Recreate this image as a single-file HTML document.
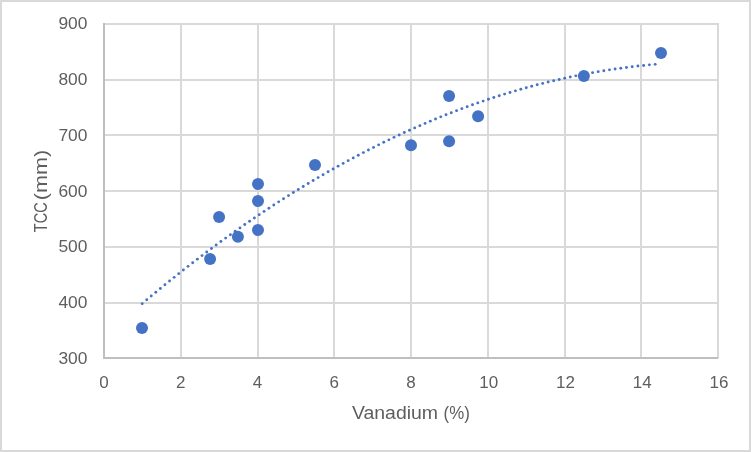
<!DOCTYPE html>
<html><head><meta charset="utf-8"><title>chart</title>
<style>
html,body{margin:0;padding:0;background:#fff;}
body{width:751px;height:452px;overflow:hidden;}
svg{display:block;will-change:transform;}
text{font-family:"Liberation Sans",sans-serif;fill:#5e5e5e;}
</style></head><body>
<svg width="751" height="452" viewBox="0 0 751 452">
<rect x="0" y="0" width="751" height="452" fill="#ffffff"/>
<rect x="1" y="1" width="749" height="450" fill="none" stroke="#d9d9d9" stroke-width="2"/>
<g stroke="#d9d9d9" stroke-width="2" fill="none">
<line x1="104" x2="719" y1="24" y2="24"/>
<line x1="104" x2="719" y1="80" y2="80"/>
<line x1="104" x2="719" y1="135" y2="135"/>
<line x1="104" x2="719" y1="191" y2="191"/>
<line x1="104" x2="719" y1="247" y2="247"/>
<line x1="104" x2="719" y1="303" y2="303"/>
<line x1="181" x2="181" y1="23" y2="358"/>
<line x1="258" x2="258" y1="23" y2="358"/>
<line x1="334" x2="334" y1="23" y2="358"/>
<line x1="411" x2="411" y1="23" y2="358"/>
<line x1="488" x2="488" y1="23" y2="358"/>
<line x1="565" x2="565" y1="23" y2="358"/>
<line x1="641" x2="641" y1="23" y2="358"/>
<line x1="718" x2="718" y1="23" y2="358"/>
</g>
<g stroke="#bfbfbf" stroke-width="2" fill="none"><line x1="104" x2="104" y1="23" y2="359"/><line x1="103" x2="718.3" y1="358" y2="358"/></g>
<g fill="#4472c4">
<circle cx="142.20" cy="303.63" r="1.45"/>
<circle cx="146.72" cy="299.81" r="1.45"/>
<circle cx="151.26" cy="296.02" r="1.45"/>
<circle cx="155.81" cy="292.24" r="1.45"/>
<circle cx="160.37" cy="288.49" r="1.45"/>
<circle cx="164.94" cy="284.75" r="1.45"/>
<circle cx="169.53" cy="281.03" r="1.45"/>
<circle cx="174.14" cy="277.33" r="1.45"/>
<circle cx="178.75" cy="273.66" r="1.45"/>
<circle cx="183.39" cy="270.00" r="1.45"/>
<circle cx="188.03" cy="266.37" r="1.45"/>
<circle cx="192.69" cy="262.75" r="1.45"/>
<circle cx="197.36" cy="259.16" r="1.45"/>
<circle cx="202.04" cy="255.60" r="1.45"/>
<circle cx="206.74" cy="252.05" r="1.45"/>
<circle cx="211.45" cy="248.53" r="1.45"/>
<circle cx="216.17" cy="245.03" r="1.45"/>
<circle cx="220.90" cy="241.56" r="1.45"/>
<circle cx="225.65" cy="238.11" r="1.45"/>
<circle cx="230.41" cy="234.68" r="1.45"/>
<circle cx="235.18" cy="231.28" r="1.45"/>
<circle cx="239.96" cy="227.91" r="1.45"/>
<circle cx="244.76" cy="224.56" r="1.45"/>
<circle cx="249.57" cy="221.24" r="1.45"/>
<circle cx="254.39" cy="217.94" r="1.45"/>
<circle cx="259.22" cy="214.67" r="1.45"/>
<circle cx="264.06" cy="211.42" r="1.45"/>
<circle cx="268.92" cy="208.20" r="1.45"/>
<circle cx="273.78" cy="205.01" r="1.45"/>
<circle cx="278.66" cy="201.85" r="1.45"/>
<circle cx="283.55" cy="198.72" r="1.45"/>
<circle cx="288.46" cy="195.61" r="1.45"/>
<circle cx="293.37" cy="192.53" r="1.45"/>
<circle cx="298.29" cy="189.48" r="1.45"/>
<circle cx="303.23" cy="186.46" r="1.45"/>
<circle cx="308.18" cy="183.47" r="1.45"/>
<circle cx="313.14" cy="180.51" r="1.45"/>
<circle cx="318.11" cy="177.58" r="1.45"/>
<circle cx="323.09" cy="174.68" r="1.45"/>
<circle cx="328.08" cy="171.81" r="1.45"/>
<circle cx="333.09" cy="168.97" r="1.45"/>
<circle cx="338.10" cy="166.16" r="1.45"/>
<circle cx="343.13" cy="163.38" r="1.45"/>
<circle cx="348.17" cy="160.64" r="1.45"/>
<circle cx="353.22" cy="157.92" r="1.45"/>
<circle cx="358.28" cy="155.24" r="1.45"/>
<circle cx="363.35" cy="152.59" r="1.45"/>
<circle cx="368.43" cy="149.97" r="1.45"/>
<circle cx="373.52" cy="147.38" r="1.45"/>
<circle cx="378.63" cy="144.83" r="1.45"/>
<circle cx="383.74" cy="142.31" r="1.45"/>
<circle cx="388.87" cy="139.83" r="1.45"/>
<circle cx="394.01" cy="137.37" r="1.45"/>
<circle cx="399.16" cy="134.96" r="1.45"/>
<circle cx="404.32" cy="132.57" r="1.45"/>
<circle cx="409.49" cy="130.22" r="1.45"/>
<circle cx="414.68" cy="127.91" r="1.45"/>
<circle cx="419.87" cy="125.63" r="1.45"/>
<circle cx="425.08" cy="123.38" r="1.45"/>
<circle cx="430.30" cy="121.17" r="1.45"/>
<circle cx="435.53" cy="119.00" r="1.45"/>
<circle cx="440.77" cy="116.86" r="1.45"/>
<circle cx="446.02" cy="114.76" r="1.45"/>
<circle cx="451.29" cy="112.69" r="1.45"/>
<circle cx="456.57" cy="110.66" r="1.45"/>
<circle cx="461.85" cy="108.67" r="1.45"/>
<circle cx="467.15" cy="106.72" r="1.45"/>
<circle cx="472.47" cy="104.80" r="1.45"/>
<circle cx="477.79" cy="102.92" r="1.45"/>
<circle cx="483.13" cy="101.08" r="1.45"/>
<circle cx="488.48" cy="99.28" r="1.45"/>
<circle cx="493.84" cy="97.51" r="1.45"/>
<circle cx="499.21" cy="95.78" r="1.45"/>
<circle cx="504.60" cy="94.10" r="1.45"/>
<circle cx="510.00" cy="92.45" r="1.45"/>
<circle cx="515.41" cy="90.84" r="1.45"/>
<circle cx="520.83" cy="89.27" r="1.45"/>
<circle cx="526.27" cy="87.74" r="1.45"/>
<circle cx="531.72" cy="86.25" r="1.45"/>
<circle cx="537.19" cy="84.81" r="1.45"/>
<circle cx="542.66" cy="83.40" r="1.45"/>
<circle cx="548.15" cy="82.04" r="1.45"/>
<circle cx="553.66" cy="80.71" r="1.45"/>
<circle cx="559.17" cy="79.43" r="1.45"/>
<circle cx="564.70" cy="78.19" r="1.45"/>
<circle cx="570.25" cy="76.99" r="1.45"/>
<circle cx="575.81" cy="75.84" r="1.45"/>
<circle cx="581.38" cy="74.73" r="1.45"/>
<circle cx="586.97" cy="73.66" r="1.45"/>
<circle cx="592.57" cy="72.63" r="1.45"/>
<circle cx="598.18" cy="71.65" r="1.45"/>
<circle cx="603.81" cy="70.72" r="1.45"/>
<circle cx="609.46" cy="69.83" r="1.45"/>
<circle cx="615.12" cy="68.98" r="1.45"/>
<circle cx="620.79" cy="68.18" r="1.45"/>
<circle cx="626.48" cy="67.43" r="1.45"/>
<circle cx="632.19" cy="66.72" r="1.45"/>
<circle cx="637.91" cy="66.05" r="1.45"/>
<circle cx="643.65" cy="65.44" r="1.45"/>
<circle cx="649.40" cy="64.87" r="1.45"/>
<circle cx="655.17" cy="64.35" r="1.45"/>
</g>
<g fill="#4472c4">
<circle cx="142.00" cy="328.00" r="6.0"/>
<circle cx="210.10" cy="259.10" r="6.0"/>
<circle cx="219.10" cy="217.10" r="6.0"/>
<circle cx="237.90" cy="236.70" r="6.0"/>
<circle cx="258.00" cy="230.00" r="6.0"/>
<circle cx="258.00" cy="201.00" r="6.0"/>
<circle cx="258.00" cy="184.10" r="6.0"/>
<circle cx="315.00" cy="165.10" r="6.0"/>
<circle cx="411.00" cy="145.30" r="6.0"/>
<circle cx="449.10" cy="141.30" r="6.0"/>
<circle cx="449.10" cy="96.10" r="6.0"/>
<circle cx="478.10" cy="116.30" r="6.0"/>
<circle cx="583.90" cy="76.00" r="6.0"/>
<circle cx="661.00" cy="53.00" r="6.0"/>
</g>
<g font-size="17.0px" text-anchor="end">
<text x="87.4" y="364.12" textLength="29.0" lengthAdjust="spacingAndGlyphs">300</text>
<text x="87.4" y="308.30" textLength="29.0" lengthAdjust="spacingAndGlyphs">400</text>
<text x="87.4" y="252.48" textLength="29.0" lengthAdjust="spacingAndGlyphs">500</text>
<text x="87.4" y="196.66" textLength="29.0" lengthAdjust="spacingAndGlyphs">600</text>
<text x="87.4" y="140.84" textLength="29.0" lengthAdjust="spacingAndGlyphs">700</text>
<text x="87.4" y="85.02" textLength="29.0" lengthAdjust="spacingAndGlyphs">800</text>
<text x="87.4" y="29.20" textLength="29.0" lengthAdjust="spacingAndGlyphs">900</text>
</g>
<g font-size="17.0px" text-anchor="middle">
<text x="104.00" y="388.0">0</text>
<text x="180.75" y="388.0">2</text>
<text x="257.50" y="388.0">4</text>
<text x="334.25" y="388.0">6</text>
<text x="411.00" y="388.0">8</text>
<text x="488.65" y="388.0">10</text>
<text x="565.40" y="388.0">12</text>
<text x="642.15" y="388.0">14</text>
<text x="718.90" y="388.0">16</text>
</g>
<text font-size="17.5px" x="351.9" y="418.7" textLength="86.2" lengthAdjust="spacingAndGlyphs">Vanadium</text>
<text font-size="17.5px" x="443.6" y="418.7" textLength="26.2" lengthAdjust="spacingAndGlyphs">(%)</text>
<text font-size="17.5px" transform="translate(46.7,232.2) rotate(-90)" textLength="30.0" lengthAdjust="spacingAndGlyphs">TCC</text>
<text font-size="17.5px" transform="translate(46.7,200.2) rotate(-90)" textLength="50.4" lengthAdjust="spacingAndGlyphs">(mm)</text>
</svg></body></html>
